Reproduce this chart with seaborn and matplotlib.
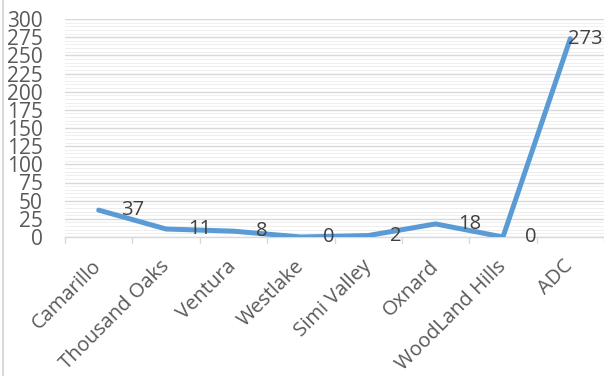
import matplotlib
matplotlib.use("Agg")
import matplotlib.pyplot as plt
from matplotlib.lines import Line2D
from matplotlib.ticker import MultipleLocator
import seaborn as sns
import pandas as pd

categories = ["Camarillo", "Thousand Oaks", "Ventura", "Westlake", "Simi Valley",
              "Oxnard", "WoodLand Hills", "ADC"]
values = [37, 11, 8, 0, 2, 18, 0, 273]
y_ticks = list(range(0, 301, 25))

sns.set_theme(style="white")
plt.rcParams["font.family"] = ["Open Sans", "DejaVu Sans"]

df = pd.DataFrame({"loc": categories, "count": values})

fig = plt.figure(figsize=(6.04, 3.76), dpi=100)
ax = fig.add_axes([65/604, 1 - 237/376, 1 - 65/604, (237 - 19)/376])

sns.lineplot(data=df, x="loc", y="count", sort=False, ax=ax,
             color="#5B9BD5", linewidth=3.6, zorder=3)

ax.set_xlim(-0.5, len(categories) - 0.5)
ax.set_ylim(0, 300)
ax.set_yticks(y_ticks)
ax.yaxis.set_minor_locator(MultipleLocator(5))
ax.grid(which="major", axis="y", color="#D9D9D9", linewidth=1.0, zorder=0)
ax.grid(which="minor", axis="y", color="#EFEFEF", linewidth=0.7, zorder=0)
ax.set_axisbelow(True)

for s in ["top", "right", "left"]:
    ax.spines[s].set_visible(False)
ax.spines["bottom"].set_color("#D9D9D9")
ax.spines["bottom"].set_linewidth(1.0)

ax.set_xlabel("")
ax.set_ylabel("")
ax.tick_params(axis="y", which="both", length=0, pad=16, labelsize=15, labelcolor="#595959")
ax.set_yticklabels([str(t) for t in y_ticks])
ax.tick_params(axis="x", length=0, pad=19, labelsize=14.5, labelcolor="#595959")
ax.set_xticks(range(len(categories)))
ax.set_xticklabels(categories, rotation=45, ha="right", va="center", rotation_mode="anchor")

# boundary tick marks
for b in range(len(categories) + 1):
    ax.plot([b - 0.5, b - 0.5], [0, -0.028], transform=ax.get_xaxis_transform(),
            color="#D9D9D9", linewidth=1.0, clip_on=False)

for i, (c, v) in enumerate(zip(categories, values)):
    if i == len(categories) - 1:
        ax.annotate(str(v), (i, v), xytext=(-2, 0), textcoords="offset points",
                    ha="left", va="center", fontsize=14.5, color="#404040", zorder=4,
                    annotation_clip=False)
    else:
        ax.annotate(str(v), (i, v), xytext=(16, 0), textcoords="offset points",
                    ha="left", va="center", fontsize=14.5, color="#404040", zorder=4)

fig.add_artist(Line2D([3/604, 3/604], [0, 1], transform=fig.transFigure,
                      color="#D9D9D9", linewidth=1.5))

fig.savefig("out.png", dpi=100)
